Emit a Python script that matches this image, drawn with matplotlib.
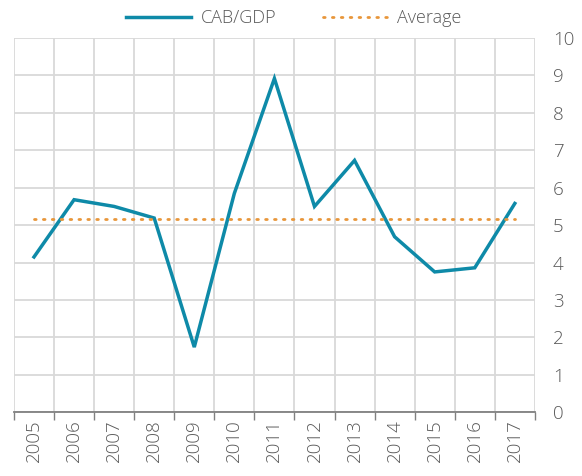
import matplotlib
matplotlib.use("Agg")
import matplotlib.pyplot as plt
import numpy as np

# data
years = ['2005', '2006', '2007', '2008', '2009', '2010', '2011',
         '2012', '2013', '2014', '2015', '2016', '2017']
cab_gdp = [4.15, 5.68, 5.5, 5.19, 1.74, 5.85, 8.92, 5.5, 6.73, 4.69, 3.75, 3.86, 5.58]
average = [5.17] * len(years)
yticks = [0, 1, 2, 3, 4, 5, 6, 7, 8, 9, 10]

plt.rcParams['font.family'] = ['Open Sans', 'DejaVu Sans']
text_col = '#595959'
grid_col = '#D9D9D9'

fig = plt.figure(figsize=(5.82, 4.76), dpi=100)
ax = fig.add_axes([0.024, 0.134, 0.895, 0.786])

x = np.arange(len(years))
ax.plot(x, cab_gdp, color='#0E8AA8', lw=2.5, label='CAB/GDP', solid_joinstyle='miter')
ax.plot(x, average, color='#E8963A', lw=2.0, linestyle=(0, (0.6, 2.6)),
        dash_capstyle='round', label='Average')

ax.set_xlim(-0.5, len(years) - 0.5)
ax.set_ylim(0, 10)

# vertical grid at category boundaries
ax.set_xticks(np.arange(-0.5, len(years), 1.0), minor=True)
ax.set_xticks(x)
ax.set_xticklabels(years, rotation=90, fontsize=13.5, color=text_col, fontweight='light')
ax.tick_params(axis='x', which='major', length=0, pad=5)
ax.tick_params(axis='x', which='minor', length=6, width=1, color='#808080', direction='out')
ax.grid(True, which='minor', axis='x', color=grid_col, lw=1.3)
ax.grid(True, which='major', axis='y', color=grid_col, lw=1.3)

ax.yaxis.tick_right()
ax.set_yticks(yticks)
ax.set_yticklabels([str(v) for v in yticks], fontsize=13.5, color=text_col, fontweight='light')
ax.tick_params(axis='y', length=0, pad=13)

for s in ['top', 'left', 'right']:
    ax.spines[s].set_visible(False)
ax.spines['bottom'].set_color('#808080')
ax.spines['bottom'].set_linewidth(1.3)
ax.set_axisbelow(True)

leg = fig.legend(loc='center', bbox_to_anchor=(0.505, 0.962), ncol=2, frameon=False,
                 fontsize=13, handlelength=3.6, columnspacing=2.6, handletextpad=0.5)
for t in leg.get_texts():
    t.set_color(text_col)
    t.set_fontweight('light')

fig.savefig('out.png', dpi=100)
